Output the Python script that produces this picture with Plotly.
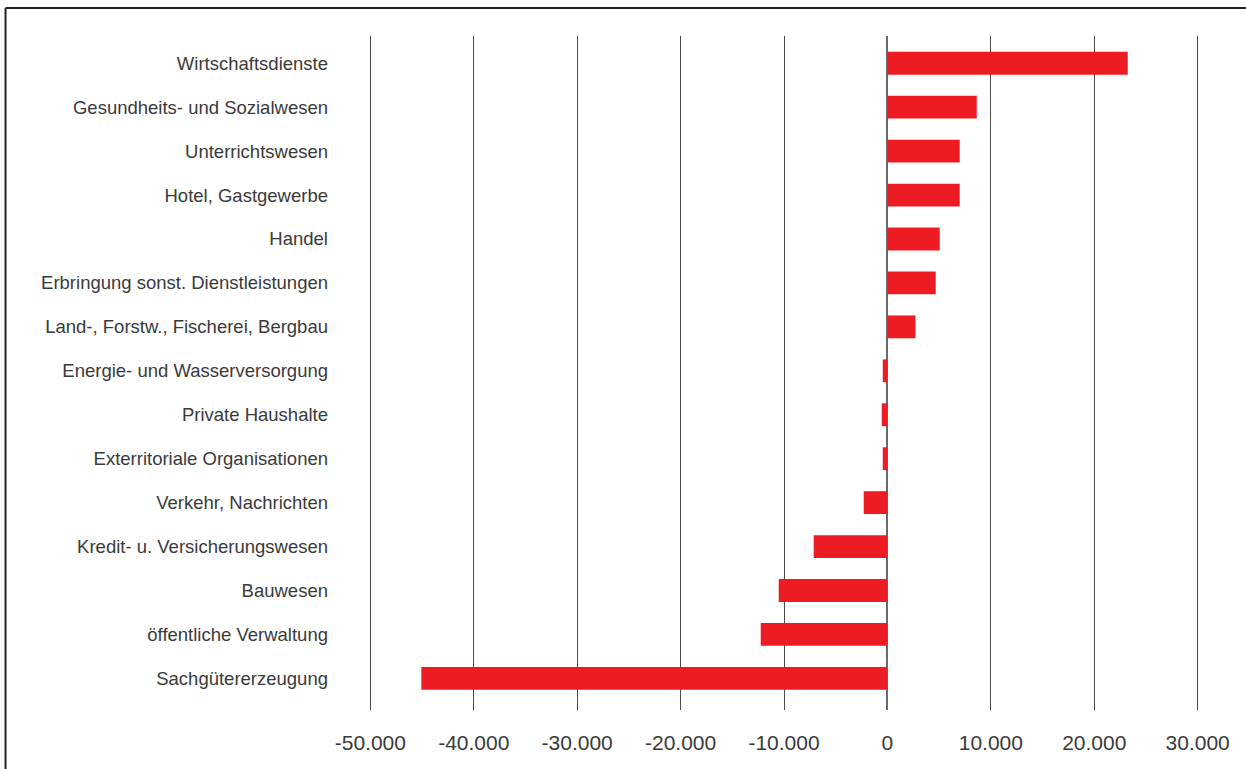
import plotly.graph_objects as go

# Veränderung der Beschäftigten nach Branchen
branchen = [
    "Wirtschaftsdienste",
    "Gesundheits- und Sozialwesen",
    "Unterrichtswesen",
    "Hotel, Gastgewerbe",
    "Handel",
    "Erbringung sonst. Dienstleistungen",
    "Land-, Forstw., Fischerei, Bergbau",
    "Energie- und Wasserversorgung",
    "Private Haushalte",
    "Exterritoriale Organisationen",
    "Verkehr, Nachrichten",
    "Kredit- u. Versicherungswesen",
    "Bauwesen",
    "öffentliche Verwaltung",
    "Sachgütererzeugung",
]
veraenderung = [23240, 8640, 6990, 6990, 5060, 4670, 2710,
                -450, -550, -450, -2290, -7130, -10510, -12250, -45070]

tick_werte = [-50000, -40000, -30000, -20000, -10000, 0, 10000, 20000, 30000]
tick_texte = ["-50.000", "-40.000", "-30.000", "-20.000", "-10.000",
              "0", "10.000", "20.000", "30.000"]

fig = go.Figure(
    go.Bar(
        x=veraenderung,
        y=branchen,
        orientation="h",
        marker=dict(color="#ED1C24", line=dict(width=0)),
        width=0.52,
    )
)

# Plotbereich etwas breiter als die Achsenwerte, damit die äußeren
# Gitterlinien bei -50.000 und 30.000 sichtbar bleiben
fig.update_layout(
    width=1246,
    height=769,
    margin=dict(l=360, r=38, t=36, b=59),
    paper_bgcolor="white",
    plot_bgcolor="white",
    showlegend=False,
    font=dict(family="Liberation Sans, Arial, sans-serif", color="#3a3a3a"),
    shapes=[
        # Rahmen oben und links
        dict(type="line", xref="paper", yref="paper",
             x0=-0.418, x1=1.2, y0=1.0415, y1=1.0415,
             line=dict(color="#222222", width=2), layer="below"),
        dict(type="line", xref="paper", yref="paper",
             x0=-0.418, x1=-0.418, y0=-0.3, y1=1.0415,
             line=dict(color="#222222", width=2), layer="below"),
    ],
)

fig.update_xaxes(
    range=[-51000, 31000],
    tickvals=tick_werte,
    ticktext=tick_texte,
    showgrid=True,
    gridcolor="#4a4a4a",
    gridwidth=1.3,
    zeroline=True,
    zerolinecolor="#6a6a6a",
    zerolinewidth=2,
    showline=False,
    ticks="",
    ticklabelstandoff=18,
    tickfont=dict(size=21, color="#3a3a3a"),
)

fig.update_yaxes(
    categoryorder="array",
    categoryarray=branchen,
    range=[14.72, -0.62],
    showgrid=False,
    zeroline=False,
    showline=False,
    ticks="",
    ticklabelstandoff=31,
    tickfont=dict(size=18.5, color="#3a3a3a"),
)

fig.write_html("out.html")
